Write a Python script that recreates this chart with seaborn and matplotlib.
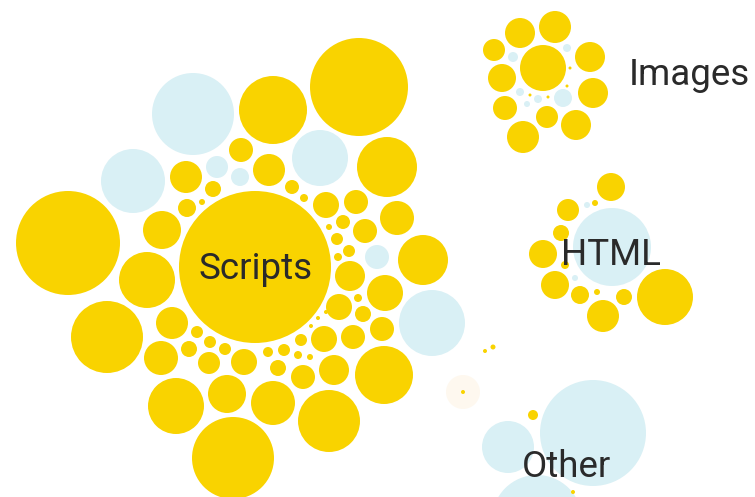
#!/usr/bin/env python3

import numpy as np
import pandas as pd
import matplotlib
matplotlib.use("Agg")
import matplotlib.pyplot as plt
import seaborn as sns

# bubble data: centre x, centre y (pixel units, y down), radius, kind
groups = (['Scripts'] * 66 + ['Images'] * 21 + ['HTML'] * 15 + ['Other'] * 7)
xs = [255, 68, 193, 133, 359, 273, 320, 387, 186, 217, 240, 241, 213, 202, 187, 162,
      269, 292, 304, 326, 356, 397, 343, 329, 365, 337, 349, 377, 423, 350, 338, 385,
      432, 358, 339, 363, 382, 353, 324, 301, 384, 334, 303, 284, 268, 298, 310, 278,
      244, 273, 329, 233, 147, 107, 172, 197, 189, 210, 225, 161, 209, 176, 227,
      318, 311, 326,
      543, 520, 555, 494, 502, 590, 593, 505, 547, 576, 523, 563, 513, 567, 520, 538,
      527, 570, 530, 567, 548,
      612, 611, 568, 561, 543, 555, 580, 603, 624, 665, 597, 595, 587, 565, 575,
      593, 508, 537, 533, 493, 485, 573]
ys = [267, 243, 114, 181, 87, 110, 158, 167, 177, 167, 177, 150, 189, 202, 208, 230,
      170, 187, 198, 205, 202, 218, 222, 227, 231, 239, 251, 257, 260, 276, 257, 293,
      323, 298, 307, 314, 329, 337, 339, 340, 375, 370, 377, 350, 352, 355, 357, 368,
      362, 403, 421, 458, 280, 337, 323, 332, 349, 342, 349, 358, 363, 406, 394,
      318, 326, 312,
      68, 33, 27, 50, 78, 57, 93, 108, 117, 125, 137, 98, 57, 48, 92, 99,
      104, 68, 95, 86, 97,
      247, 187, 210, 233, 254, 285, 295, 316, 297, 297, 292, 203, 205, 265, 278,
      433, 447, 520, 415, 347, 351, 492]
radii = [76, 52, 41, 32, 49, 34, 28, 30, 16, 11, 9, 12, 8, 3, 9, 19,
         16, 7, 4, 13, 12, 17, 7, 3, 12, 6, 6, 12, 25, 15, 4, 18,
         33, 4, 13, 8, 12, 12, 13, 6, 29, 15, 12, 6, 5, 4, 3, 8,
         13, 22, 31, 41, 28, 36, 16, 6, 8, 6, 6, 17, 11, 28, 19,
         2, 2, 2,
         23, 15, 16, 11, 14, 15, 15, 12, 11, 15, 16, 9, 5, 4, 4, 4,
         3, 1.5, 1.5, 1.5, 1.5,
         39, 14, 11, 8, 14, 14, 9, 16, 8, 28, 3, 3, 3, 4, 3,
         53, 26, 45, 5, 2.5, 2, 2]
kinds = (['y', 'y', 'b', 'b', 'y', 'y', 'b', 'y', 'y', 'b', 'b', 'y', 'y', 'y', 'y', 'y',
          'y', 'y', 'y', 'y', 'y', 'y', 'y', 'y', 'y', 'y', 'y', 'b', 'y', 'y', 'y', 'y',
          'b', 'y', 'y', 'y', 'y', 'y', 'y', 'y', 'y', 'y', 'y', 'y', 'y', 'y', 'y', 'y',
          'y', 'y', 'y', 'y', 'y', 'y', 'y', 'y', 'y', 'y', 'y', 'y', 'y', 'y', 'y',
          'y', 'y', 'y']
         + ['y'] * 11 + ['b'] * 6 + ['y'] * 4
         + ['b'] + ['y'] * 11 + ['b', 'y', 'b']
         + ['b', 'b', 'b', 'y', 'y', 'y', 'y'])

# the faint "burst" of tiny dots between the clusters
faint_x = [463, 463]
faint_y = [392, 392]
faint_r = [17, 2]
faint_kind = ['f', 'y']

labels = ['Scripts', 'Images', 'HTML', 'Other']
label_x = [256, 629, 611, 567]
label_y = [279, 85, 265, 477]
label_ha = ['center', 'left', 'center', 'center']

palette = {'y': '#f9d300', 'b': '#d9f0f5', 'f': '#fef8ef'}


def main():
    sns.set_theme(style="white")
    plt.rcParams['font.family'] = ['Roboto', 'DejaVu Sans']

    df = pd.DataFrame({'x': xs, 'y': ys, 'r': radii, 'kind': kinds, 'group': groups})
    df_faint = pd.DataFrame({'x': faint_x, 'y': faint_y, 'r': faint_r, 'kind': faint_kind})

    W, H, dpi = 755, 497, 100
    fig = plt.figure(figsize=(W / dpi, H / dpi), dpi=dpi)
    ax = fig.add_axes([0, 0, 1, 1])
    ax.set_xlim(0, W)
    ax.set_ylim(H, 0)

    # one data unit == one pixel, marker size is area in pt^2
    px2pt = 72.0 / dpi
    for d in [df_faint, df]:
        s = (2 * d['r'] * px2pt) ** 2
        sns.scatterplot(data=d, x='x', y='y', hue='kind', palette=palette, s=s,
                        linewidth=0, legend=False, ax=ax)

    for lab, lx, ly, ha in zip(labels, label_x, label_y, label_ha):
        ax.text(lx, ly, lab, ha=ha, va='baseline', fontsize=26.5, color='#2a2a2a')

    ax.set_axis_off()
    fig.savefig('out.png', dpi=dpi)
    plt.close()


if __name__ == "__main__":
    main()
